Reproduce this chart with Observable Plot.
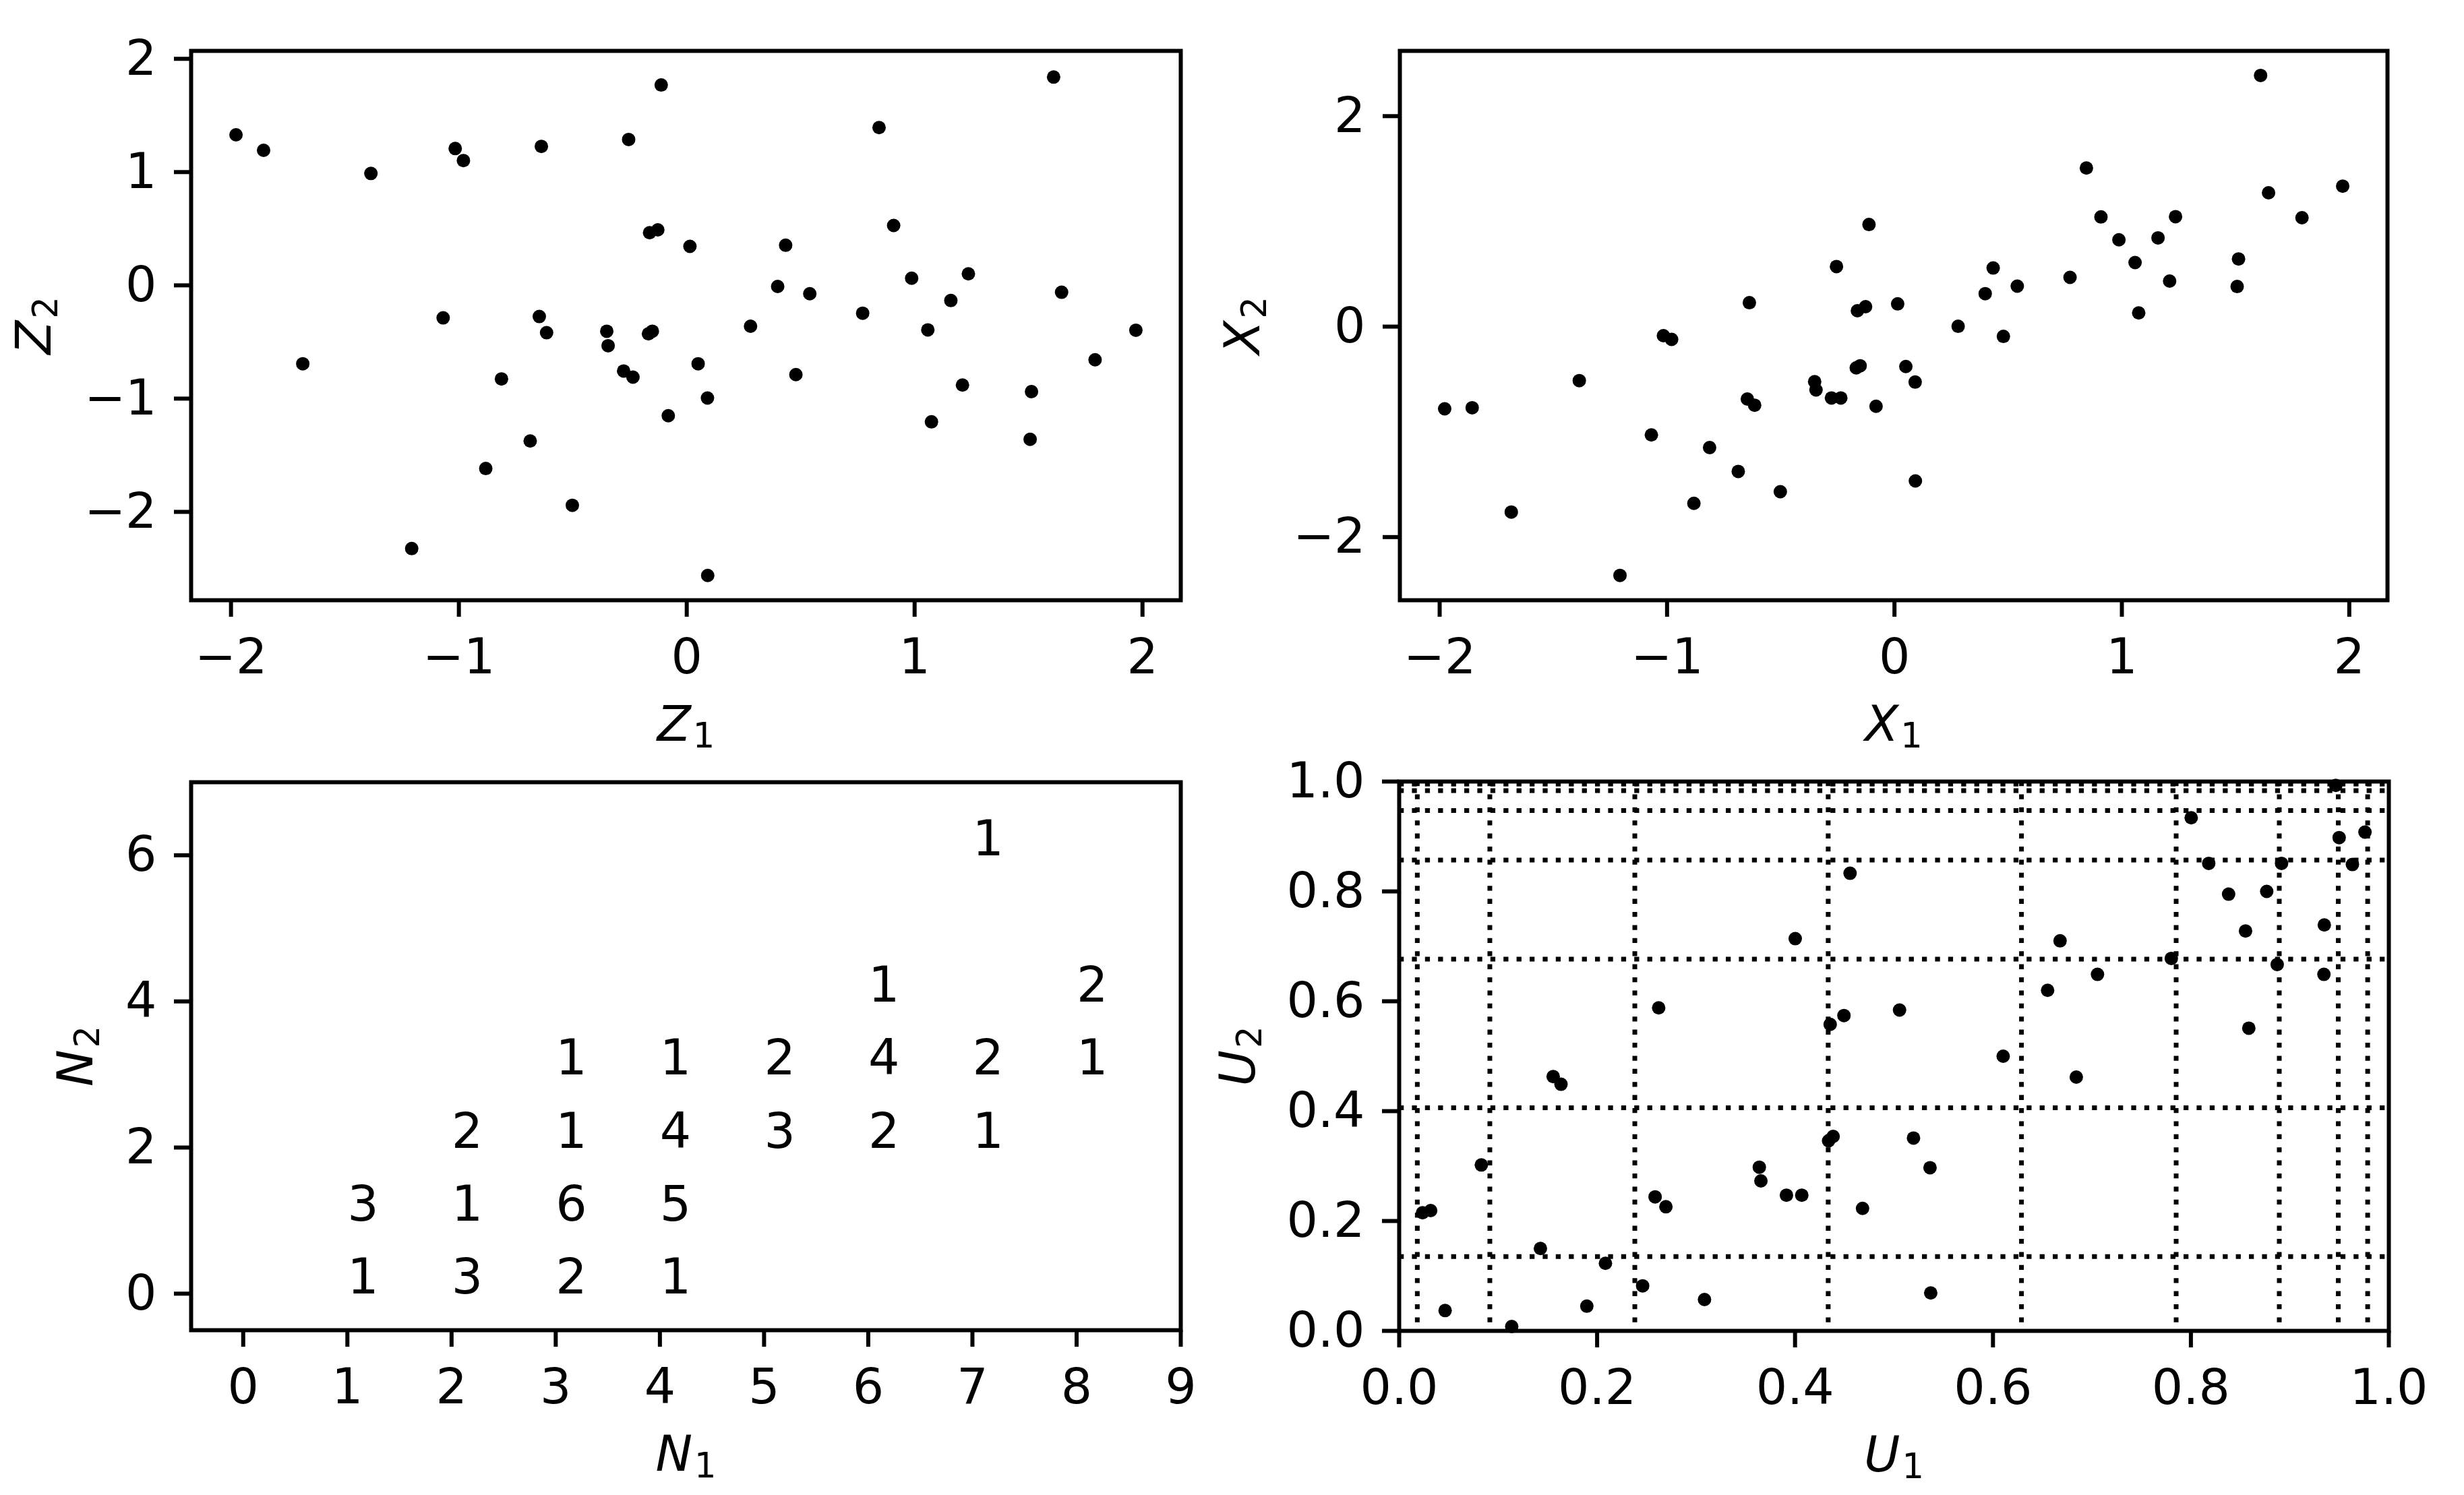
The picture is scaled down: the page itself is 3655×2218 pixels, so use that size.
<!DOCTYPE html>
<html><head><meta charset="utf-8">
<script src="https://cdn.jsdelivr.net/npm/d3@7"></script>
<script src="https://cdn.jsdelivr.net/npm/@observablehq/plot@0.6"></script>
<style>
html,body{margin:0;padding:0;background:#fff;}
#page{position:relative;width:3655px;height:2218px;background:#fff;overflow:hidden;}
.panel{position:absolute;}
.panel svg{max-width:none !important;display:block;}
</style></head>
<body><div id="page"></div>
<script>
// ---------- data ----------
const z1 = [-1.978, -1.857, -1.685, -1.386, -1.207, -1.069, -1.016, -0.980, -0.882, -0.813, -0.687, -0.647, -0.638, -0.615, -0.502, -0.351, -0.345, -0.277, -0.255, -0.236, -0.168, -0.163, -0.151, -0.127, -0.112, -0.081, 0.014, 0.050, 0.091, 0.092, 0.280, 0.399, 0.434, 0.479, 0.540, 0.772, 0.844, 0.908, 0.987, 1.058, 1.074, 1.159, 1.210, 1.236, 1.507, 1.513, 1.610, 1.645, 1.792, 1.971];
const z2 = [1.329, 1.192, -0.692, 0.988, -2.324, -0.287, 1.208, 1.102, -1.617, -0.826, -1.374, -0.275, 1.227, -0.418, -1.942, -0.405, -0.533, -0.756, 1.288, -0.810, -0.428, 0.465, -0.405, 0.490, 1.769, -1.151, 0.344, -0.692, -0.995, -2.561, -0.361, -0.010, 0.354, -0.788, -0.074, -0.246, 1.393, 0.529, 0.063, -0.393, -1.205, -0.134, -0.880, 0.102, -1.359, -0.938, 1.839, -0.061, -0.657, -0.396];
const x1 = [-1.978, -1.857, -1.685, -1.386, -1.207, -1.069, -1.016, -0.980, -0.882, -0.813, -0.687, -0.647, -0.638, -0.615, -0.502, -0.351, -0.345, -0.277, -0.255, -0.236, -0.168, -0.163, -0.151, -0.127, -0.112, -0.081, 0.014, 0.050, 0.091, 0.092, 0.280, 0.399, 0.434, 0.479, 0.540, 0.772, 0.844, 0.908, 0.987, 1.058, 1.074, 1.159, 1.210, 1.236, 1.507, 1.513, 1.610, 1.645, 1.792, 1.971];
const x2 = [-0.781, -0.771, -1.762, -0.513, -2.364, -1.029, -0.086, -0.121, -1.679, -1.149, -1.376, -0.688, 0.227, -0.747, -1.569, -0.523, -0.602, -0.678, 0.571, -0.678, -0.392, 0.151, -0.372, 0.189, 0.970, -0.757, 0.216, -0.379, -0.527, -1.466, 0.003, 0.313, 0.557, -0.093, 0.385, 0.468, 1.507, 1.042, 0.825, 0.609, 0.130, 0.843, 0.433, 1.045, 0.381, 0.643, 2.387, 1.272, 1.035, 1.335];
const u1 = [0.4556, 0.4002, 0.2622, 0.4355, 0.4494, 0.1556, 0.1635, 0.0830, 0.4339, 0.4385, 0.3639, 0.3655, 0.3913, 0.4068, 0.2586, 0.2695, 0.4682, 0.0236, 0.0318, 0.1427, 0.2084, 0.2460, 0.3085, 0.1896, 0.0464, 0.1137,
            0.9464, 0.8003, 0.9498, 0.9759, 0.8180, 0.8916, 0.9632, 0.8381, 0.8766, 0.8552, 0.9348, 0.6678, 0.7802, 0.8872, 0.9344, 0.7056, 0.6552, 0.5056, 0.8585, 0.6103, 0.6842, 0.5197, 0.5364, 0.5371];
const u2 = [0.833, 0.714, 0.588, 0.558, 0.574, 0.463, 0.449, 0.302, 0.346, 0.354, 0.298, 0.273, 0.247, 0.247, 0.244, 0.226, 0.223, 0.215, 0.219, 0.150, 0.123, 0.082, 0.057, 0.045, 0.037, 0.008,
            0.993, 0.934, 0.898, 0.908, 0.851, 0.851, 0.849, 0.795, 0.800, 0.728, 0.739, 0.710, 0.678, 0.667, 0.649, 0.649, 0.620, 0.584, 0.551, 0.500, 0.462, 0.351, 0.297, 0.069];
// dotted grid positions in the U panel
const uGridV = [0.0183, 0.0916, 0.2381, 0.4335, 0.6288, 0.7851, 0.8893, 0.9489, 0.9786];
const uGridH = [0.1353, 0.4060, 0.6767, 0.8571, 0.9473, 0.9834, 0.9955];
// counts in the N panel
const cntN1 = [7, 6, 8, 3, 4, 5, 6, 7, 8, 2, 3, 4, 5, 6, 7, 1, 2, 3, 4, 1, 2, 3, 4];
const cntN2 = [6, 4, 4, 3, 3, 3, 3, 3, 3, 2, 2, 2, 2, 2, 2, 1, 1, 1, 1, 0, 0, 0, 0];
const cnt   = [1, 1, 2, 1, 1, 2, 4, 2, 1, 2, 1, 4, 3, 2, 1, 3, 1, 6, 5, 1, 3, 2, 1];
// ticks
const zTicks = [-2, -1, 0, 1, 2];
const x2Ticks = [-2, 0, 2];
const n1Ticks = [0, 1, 2, 3, 4, 5, 6, 7, 8, 9];
const n2Ticks = [0, 2, 4, 6];
const uTicks = [0, 0.2, 0.4, 0.6, 0.8, 1.0];
// labels
const labels = {tl: ["Z1", "Z2"], tr: ["X1", "X2"], bl: ["N1", "N2"], br: ["U1", "U2"]};

// ---------- rendering ----------
const FONT = "DejaVu Sans";
const FS = 73;
const fmtInt = d3.format("d");
const fmt1 = d3.format(".1f");
const page = document.getElementById("page");

function mathLabels(svg) {
  d3.select(svg).selectAll("text").filter(function () {
    return /^[ZXNU][12]$/.test(this.textContent);
  }).each(function () {
    const s = this.textContent;
    const t = d3.select(this);
    t.text("");
    t.append("tspan").attr("font-style", "italic").text(s[0]);
    t.append("tspan").attr("font-size", "70%").attr("dy", "10").attr("dx", "3").text(s[1]);
  });
}

function makePanel(cfg) {
  const svg = Plot.plot({
    width: cfg.width, height: cfg.height,
    marginLeft: cfg.mL, marginRight: cfg.mR, marginTop: cfg.mT, marginBottom: cfg.mB,
    style: {fontFamily: FONT, fontSize: FS + "px", color: "black", background: "white", overflow: "visible"},
    x: {domain: cfg.xDomain},
    y: {domain: cfg.yDomain},
    marks: [
      ...cfg.marks,
      Plot.frame({stroke: "black", strokeWidth: 6}),
      Plot.axisX({anchor: "bottom", ticks: cfg.xTicks, tickFormat: cfg.xFormat, tickSize: 25, tickPadding: 32, stroke: "black", strokeWidth: 6, label: null}),
      Plot.axisY({anchor: "left", ticks: cfg.yTicks, tickFormat: cfg.yFormat, tickSize: 25, tickPadding: 26, stroke: "black", strokeWidth: 6, label: null}),
      Plot.text([cfg.labels[0]], {text: d => d, frameAnchor: "bottom", dy: 208, lineAnchor: "bottom", textAnchor: "middle", fill: "black"}),
      Plot.text([cfg.labels[1]], {text: d => d, frameAnchor: "left", dx: cfg.yDx, rotate: -90, lineAnchor: "bottom", textAnchor: "middle", fill: "black"})
    ]
  });
  mathLabels(svg);
  const div = document.createElement("div");
  div.className = "panel";
  div.style.left = cfg.left + "px";
  div.style.top = cfg.top + "px";
  div.style.width = cfg.width + "px";
  div.style.height = cfg.height + "px";
  div.appendChild(svg);
  page.appendChild(div);
}

const zData = z1.map((v, i) => ({a: v, b: z2[i]}));
const xData = x1.map((v, i) => ({a: v, b: x2[i]}));
const uData = u1.map((v, i) => ({a: v, b: u2[i]}));
const nData = cnt.map((c, i) => ({a: cntN1[i], b: cntN2[i], c}));

// top-left: Z
makePanel({
  left: 0, top: 0, width: 1828, height: 1109,
  mL: 283, mR: 77, mT: 75, mB: 219,
  xDomain: [-2.175, 2.168], yDomain: [-2.78, 2.07],
  xTicks: zTicks, yTicks: zTicks, xFormat: fmtInt, yFormat: fmtInt,
  labels: labels.tl, yDx: -209,
  marks: [Plot.dot(zData, {x: "a", y: "b", r: 10, fill: "black"})]
});

// top-right: X
makePanel({
  left: 1828, top: 0, width: 1827, height: 1109,
  mL: 248, mR: 114, mT: 75, mB: 219,
  xDomain: [-2.175, 2.168], yDomain: [-2.60, 2.62],
  xTicks: zTicks, yTicks: x2Ticks, xFormat: fmtInt, yFormat: fmtInt,
  labels: labels.tr, yDx: -209,
  marks: [Plot.dot(xData, {x: "a", y: "b", r: 10, fill: "black"})]
});

// bottom-left: N counts
makePanel({
  left: 0, top: 1109, width: 1828, height: 1109,
  mL: 283, mR: 77, mT: 51, mB: 245,
  xDomain: [-0.5, 9], yDomain: [-0.5, 7],
  xTicks: n1Ticks, yTicks: n2Ticks, xFormat: fmtInt, yFormat: fmtInt,
  labels: labels.bl, yDx: -147,
  marks: [Plot.text(nData, {x: "a", y: "b", text: d => String(d.c), textAnchor: "start", lineAnchor: "bottom", fill: "black"})]
});

// bottom-right: U with dotted grid
makePanel({
  left: 1828, top: 1109, width: 1827, height: 1109,
  mL: 247, mR: 112, mT: 50, mB: 244,
  xDomain: [0, 1], yDomain: [0, 1],
  xTicks: uTicks, yTicks: uTicks, xFormat: fmt1, yFormat: fmt1,
  labels: labels.br, yDx: -215,
  marks: [
    Plot.ruleX(uGridV, {stroke: "black", strokeWidth: 7, strokeDasharray: "7.3,12.1"}),
    Plot.ruleY(uGridH, {stroke: "black", strokeWidth: 7, strokeDasharray: "7.3,12.1"}),
    Plot.dot(uData, {x: "a", y: "b", r: 10, fill: "black"})
  ]
});
</script>
</body></html>
